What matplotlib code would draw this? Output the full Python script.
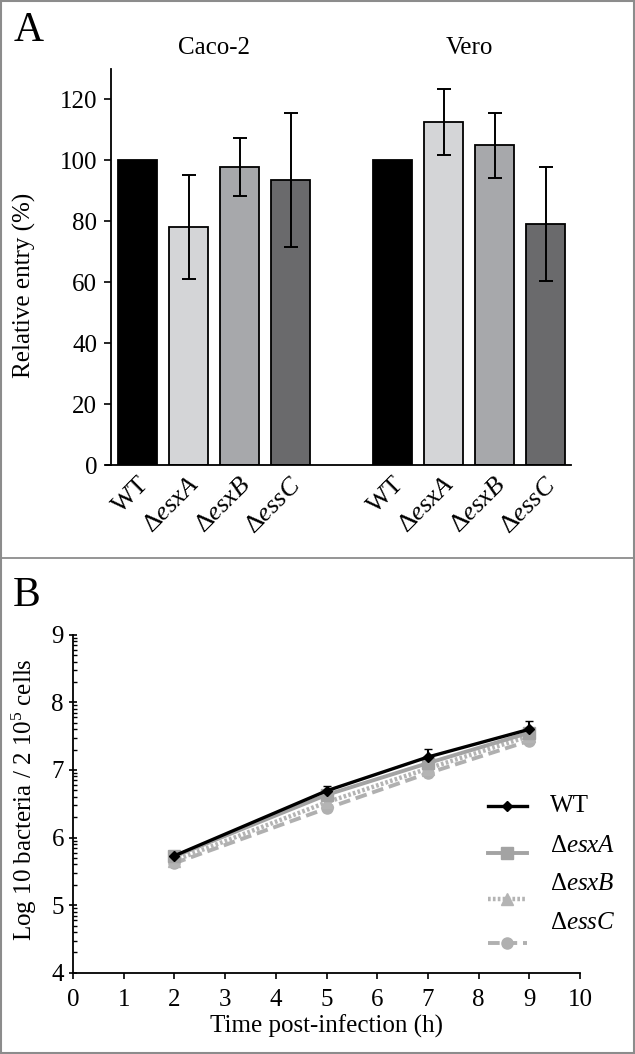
import numpy as np
import matplotlib
matplotlib.use("Agg")
import matplotlib.pyplot as plt
from matplotlib.lines import Line2D
from matplotlib.patches import Rectangle

plt.rcParams['font.family'] = ['Liberation Serif', 'DejaVu Serif']
plt.rcParams['mathtext.fontset'] = 'custom'
plt.rcParams['mathtext.rm'] = 'Liberation Serif'
plt.rcParams['mathtext.it'] = 'Liberation Serif:italic'

# panel A data
strains = ['WT', r'$\Delta\mathit{esxA}$', r'$\Delta\mathit{esxB}$', r'$\Delta\mathit{essC}$']
cells = ['Caco-2', 'Vero']
caco_entry = [100, 78.2, 97.9, 93.5]
caco_err = [0, 17.0, 9.6, 22.0]
vero_entry = [100, 112.5, 104.9, 79.1]
vero_err = [0, 10.8, 10.6, 18.6]
bar_colors = ['#000000', '#d4d5d7', '#a7a8ab', '#6a6a6c']

# panel B data
hours = [2, 5, 7, 9]
series_names = ['WT', r'$\Delta\mathit{esxA}$', r'$\Delta\mathit{esxB}$', r'$\Delta\mathit{essC}$']
wt_log = [5.73, 6.69, 7.19, 7.60]
wt_sd = [0.05, 0.07, 0.12, 0.12]
esxa_log = [5.72, 6.63, 7.10, 7.55]
esxa_sd = [0.05, 0.05, 0.06, 0.06]
esxb_log = [5.66, 6.52, 7.02, 7.50]
esxb_sd = [0.05, 0.05, 0.05, 0.05]
essc_log = [5.62, 6.43, 6.95, 7.43]
essc_sd = [0.04, 0.05, 0.05, 0.05]

fig = plt.figure(figsize=(6.35, 10.54), dpi=100)

# ---------------- panel A ----------------
axA = fig.add_axes([106/635, 1-465/1054, 465/635, 396/1054])
pos_caco = np.arange(4)
pos_vero = np.arange(4) + 5
axA.bar(pos_caco, caco_entry, width=0.76, color=bar_colors, edgecolor='black', linewidth=1.3)
axA.bar(pos_vero, vero_entry, width=0.76, color=bar_colors, edgecolor='black', linewidth=1.3)
for pos, vals, errs in [(pos_caco, caco_entry, caco_err), (pos_vero, vero_entry, vero_err)]:
    for p, v, e in zip(pos, vals, errs):
        if e > 0:
            axA.errorbar(p, v, yerr=e, color='black', lw=1.4, capsize=5, capthick=1.4)
axA.set_xlim(-0.62, 8.5)
axA.set_ylim(0, 130)
axA.set_yticks(range(0, 121, 20))
axA.spines['top'].set_visible(False)
axA.spines['right'].set_visible(False)
axA.spines['left'].set_position(('data', -0.52))
axA.spines['left'].set_linewidth(1.3)
axA.spines['bottom'].set_linewidth(1.3)
axA.tick_params(axis='y', direction='out', length=5, width=1.2, labelsize=18, pad=5)
axA.set_xticks(list(pos_caco) + list(pos_vero))
axA.set_xticklabels(strains + strains, rotation=45, ha='right', rotation_mode='anchor', fontsize=19)
axA.tick_params(axis='x', length=0, pad=6)
axA.text(pos_caco.mean(), 137, cells[0], ha='center', va='center', fontsize=18, clip_on=False)
axA.text(pos_vero.mean(), 137, cells[1], ha='center', va='center', fontsize=18, clip_on=False)
fig.text(24/635, 1-285/1054, 'Relative entry (%)', rotation=90, ha='center', va='center', fontsize=18)
fig.text(28.5/635, 1-31/1054, 'A', ha='center', va='center', fontsize=30)

# ---------------- panel B ----------------
axB = fig.add_axes([73/635, 1-972.8/1054, 507/635, 338.2/1054])
styles = [
    dict(y=wt_log, e=wt_sd, color='black', ls='-', lw=2.4, marker='D', ms=5),
    dict(y=esxa_log, e=esxa_sd, color='#a3a3a3', ls='-', lw=2.8, marker='s', ms=8),
    dict(y=esxb_log, e=esxb_sd, color='#b4b4b4', ls=(0, (0.6, 0.5)), lw=3.2, marker='^', ms=8),
    dict(y=essc_log, e=essc_sd, color='#b0b0b0', ls=(0, (3, 1.5)), lw=2.8, marker='o', ms=8),
]
for s in reversed(styles):
    axB.errorbar(hours, s['y'], yerr=s['e'], color=s['color'], ls=s['ls'], lw=s['lw'],
                 marker=s['marker'], ms=s['ms'], capsize=3, elinewidth=1.5)
axB.set_xlim(0, 10)
axB.set_ylim(4, 9)
axB.set_xticks(range(0, 11))
axB.set_yticks(range(4, 10))
minor = [n + np.log10(k) for n in range(4, 9) for k in range(2, 10)]
axB.set_yticks(minor, minor=True)
axB.spines['top'].set_visible(False)
axB.spines['right'].set_visible(False)
axB.spines['left'].set_linewidth(1.3)
axB.spines['bottom'].set_linewidth(1.3)
axB.tick_params(axis='y', which='major', direction='inout', length=6, width=1.2, labelsize=18)
axB.tick_params(axis='y', which='minor', direction='in', length=3, width=1.0)
axB.tick_params(axis='x', direction='out', length=4, width=1.2, labelsize=18, pad=8)
axB.set_xlabel('Time post-infection (h)', fontsize=18, labelpad=2)
fig.text(24/635, 1-800/1054, r'Log 10 bacteria / 2 10$^{5}$ cells', rotation=90,
         ha='center', va='center', fontsize=18)
fig.text(27/635, 1-596/1054, 'B', ha='center', va='center', fontsize=30)

# manual legend (handles offset from labels as in the original)
label_y = [0.493, 0.375, 0.263, 0.147]
handle_y = [0.493, 0.353, 0.219, 0.088]
for s, name, ly, hy in zip(styles, series_names, label_y, handle_y):
    axB.add_line(Line2D([0.818, 0.895], [hy, hy], transform=axB.transAxes, color=s['color'],
                        ls=s['ls'], lw=s['lw'], clip_on=False))
    axB.add_line(Line2D([0.8565], [hy], transform=axB.transAxes, color=s['color'],
                        marker=s['marker'], ms=s['ms'], ls='none', clip_on=False))
    axB.text(0.94, ly, name, transform=axB.transAxes, ha='left', va='center', fontsize=18)

# frame and separator
fig.patches.append(Rectangle((0.001, 0.001), 0.997, 0.998, transform=fig.transFigure,
                             fill=False, edgecolor='#8c8c8c', lw=1.5))
fig.lines.append(Line2D([0, 1], [1-558/1054, 1-558/1054], transform=fig.transFigure,
                        color='#8c8c8c', lw=1.3))

fig.savefig('out.png', dpi=100)
